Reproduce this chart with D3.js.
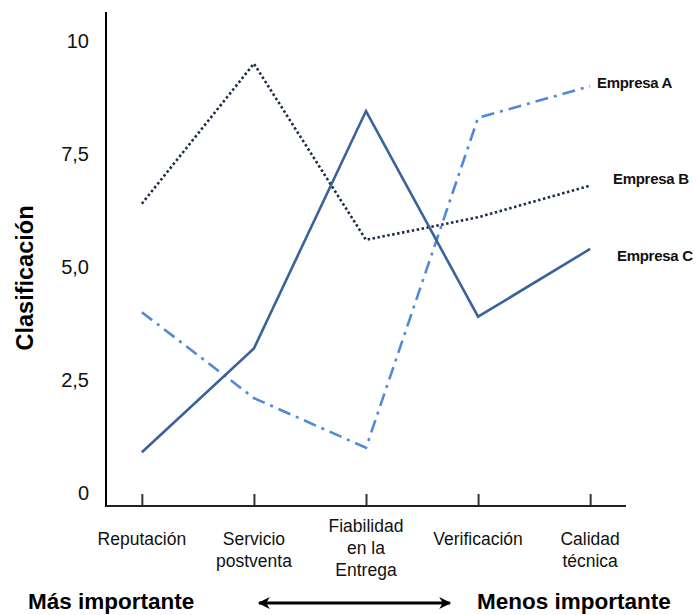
<!DOCTYPE html>
<html><head><meta charset="utf-8">
<script src="https://cdn.jsdelivr.net/npm/d3@7"></script>
<style>body{margin:0;background:#fff}</style>
</head><body>
<svg id="c" width="696" height="615"></svg>
<script>
const categories = ["Reputación", "Servicio postventa", "Fiabilidad en la Entrega", "Verificación", "Calidad técnica"];
const categoryLines = [["Reputación"], ["Servicio", "postventa"], ["Fiabilidad", "en la", "Entrega"], ["Verificación"], ["Calidad", "técnica"]];
const empresaA = [4.0, 2.1, 1.0, 8.3, 9.0];
const empresaB = [6.4, 9.5, 5.6, 6.1, 6.8];
const empresaC = [0.9, 3.2, 8.45, 3.9, 5.4];
const seriesNames = ["Empresa A", "Empresa B", "Empresa C"];
const yTicks = [0, 2.5, 5, 7.5, 10];
const yTickLabels = ["0", "2,5", "5,0", "7,5", "10"];

const svg = d3.select("#c");
const font = "Arial, 'Liberation Sans', sans-serif";
const x = d3.scalePoint().domain(categories).range([106, 626]).padding(0.32);
const y = d3.scaleLinear().domain([0, 10]).range([493, 41]);
const axisY = 506;

// y axis line
svg.append("line").attr("x1", 106).attr("x2", 106).attr("y1", 12).attr("y2", 507)
  .attr("stroke", "#000").attr("stroke-width", 2);

// y tick labels
svg.append("g").selectAll("text").data(yTicks).join("text")
  .attr("x", 89).attr("y", d => y(d)).attr("dy", "0.35em")
  .attr("text-anchor", "end").attr("font-family", font).attr("font-size", 20).attr("fill", "#111")
  .text((d, i) => yTickLabels[i]);

// x axis
const xAxis = d3.axisBottom(x).tickSize(-12).tickSizeOuter(0).tickFormat("");
const gx = svg.append("g").attr("transform", `translate(0,${axisY})`).call(xAxis);
gx.select(".domain").remove();
gx.selectAll(".tick line").attr("stroke", "#333").attr("stroke-width", 2);
svg.append("line").attr("x1", 106).attr("x2", 626).attr("y1", axisY).attr("y2", axisY)
  .attr("stroke", "#222").attr("stroke-width", 2);

// x labels
categories.forEach((c, i) => {
  const lines = categoryLines[i];
  const start = lines.length > 2 ? 526 : 539;
  const t = svg.append("text").attr("text-anchor", "middle").attr("font-family", font)
    .attr("font-size", 17.5).attr("fill", "#111");
  lines.forEach((l, j) => {
    t.append("tspan").attr("x", x(c)).attr("y", start + j * 22).attr("dy", "0.35em").text(l);
  });
});

// series
const line = d3.line().x((d, i) => x(categories[i])).y(d => y(d));
const styles = [
  {data: empresaA, color: "#4F8AD6", dash: "13,6,3,6", width: 2.6},
  {data: empresaB, color: "#1C2D48", dash: "2.5,2.5", width: 2.6},
  {data: empresaC, color: "#3A6399", dash: null, width: 2.6}
];
styles.forEach(s => {
  svg.append("path").datum(s.data).attr("d", line).attr("fill", "none")
    .attr("stroke", s.color).attr("stroke-width", s.width)
    .attr("stroke-dasharray", s.dash).attr("stroke-linejoin", "miter");
});

// series labels
const labelPos = [[597, 83], [613, 179], [617, 256]];
seriesNames.forEach((n, i) => {
  svg.append("text").attr("x", labelPos[i][0]).attr("y", labelPos[i][1]).attr("dy", "0.35em")
    .attr("font-family", font).attr("font-weight", "bold").attr("font-size", 15)
    .attr("letter-spacing", -0.3).attr("fill", "#111").text(n);
});

// y title
svg.append("text").attr("transform", "translate(25,278) rotate(-90)").attr("dy", "0.35em")
  .attr("text-anchor", "middle").attr("font-family", font).attr("font-weight", "bold")
  .attr("font-size", 23.5).attr("fill", "#000").text("Clasificación");

// importance annotation
svg.append("text").attr("x", 28).attr("y", 609).attr("font-family", font)
  .attr("font-weight", "bold").attr("font-size", 22.5).attr("fill", "#000").text("Más importante");
svg.append("text").attr("x", 477).attr("y", 609).attr("font-family", font)
  .attr("font-weight", "bold").attr("font-size", 22.5).attr("fill", "#000").text("Menos importante");
const defs = svg.append("defs");
defs.append("marker").attr("id", "ah").attr("viewBox", "0 0 10 10").attr("refX", 9).attr("refY", 5)
  .attr("markerWidth", 6).attr("markerHeight", 4).attr("orient", "auto-start-reverse")
  .append("path").attr("d", "M0,0 L10,5 L0,10 L3,5 Z").attr("fill", "#000");
svg.append("line").attr("x1", 259).attr("x2", 450).attr("y1", 603).attr("y2", 603)
  .attr("stroke", "#000").attr("stroke-width", 3)
  .attr("marker-start", "url(#ah)").attr("marker-end", "url(#ah)");
</script>
</body></html>
